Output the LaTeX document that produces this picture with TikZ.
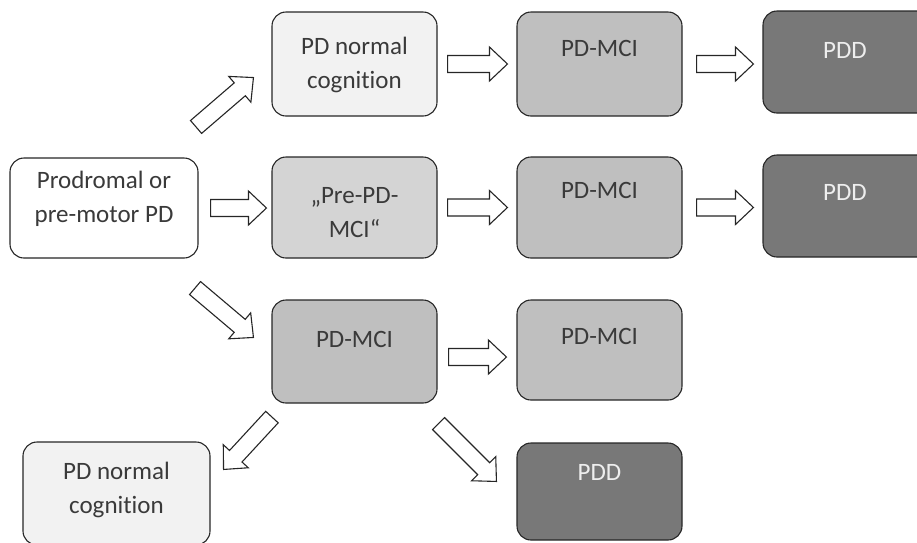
\documentclass[tikz,border=0pt]{standalone}
\usepackage{fontspec}
\setmainfont{Carlito}[Ligatures=CommonOff]
\usetikzlibrary{calc}

\definecolor{ink}{HTML}{3A3A3A}
\definecolor{edge}{HTML}{262626}
\definecolor{paleGray}{HTML}{F2F2F2}
\definecolor{preGray}{HTML}{D4D4D4}
\definecolor{midGray}{HTML}{BFBFBF}
\definecolor{darkGray}{HTML}{787878}
\definecolor{pddText}{HTML}{EEEEEE}

\begin{document}
\begin{tikzpicture}[x=1pt,y=-1pt,
  box/.style={draw=edge, line width=1.1pt, rounded corners=14pt, rectangle, inner sep=0pt},
  wide/.style={minimum width=165pt},
  % labels are placed by the baseline of their last line
  lbl/.style={anchor=base, align=center, font=\fontsize{25}{34}\selectfont, text=ink, inner sep=0pt},
  pddlbl/.style={lbl, text=pddText},
  % hollow block arrow from the start point to the tip
  fat/.style={draw=edge, line width=1.1pt, fill=white, line join=miter,
    to path={
      ($(\tikztostart)!8.5pt!90:(\tikztotarget)$)
   -- ($($(\tikztotarget)!18pt!(\tikztostart)$)!8.5pt!90:(\tikztotarget)$)
   -- ($($(\tikztotarget)!18pt!(\tikztostart)$)!17pt!90:(\tikztotarget)$)
   -- (\tikztotarget)
   -- ($($(\tikztotarget)!18pt!(\tikztostart)$)!17pt!-90:(\tikztotarget)$)
   -- ($($(\tikztotarget)!18pt!(\tikztostart)$)!8.5pt!-90:(\tikztotarget)$)
   -- ($(\tikztostart)!8.5pt!-90:(\tikztotarget)$)
   -- cycle}}]
\useasboundingbox (0,0) rectangle (917,542);
\clip (0,0) rectangle (917,542);

% boxes
\node[box, wide, fill=paleGray, minimum height=104pt] (b1) at (354.5,64) {};
\node[box, wide, fill=midGray, minimum height=104pt] (b2) at (599.5,64) {};
\node[box, fill=darkGray, minimum width=170pt, minimum height=102pt] (b3) at (848,62) {};
\node[box, fill=white, minimum width=188pt, minimum height=100pt] (b4) at (104,208) {};
\node[box, wide, fill=preGray, minimum height=101pt] (b5) at (354.5,207.5) {};
\node[box, wide, fill=midGray, minimum height=101pt] (b6) at (599.5,207.5) {};
\node[box, fill=darkGray, minimum width=170pt, minimum height=102pt] (b7) at (848,206) {};
\node[box, wide, fill=midGray, minimum height=103pt] (b8) at (354.5,351.5) {};
\node[box, wide, fill=midGray, minimum height=100pt] (b9) at (599.5,350) {};
\node[box, fill=paleGray, minimum width=187pt, minimum height=103pt] (b10) at (116.5,493.5) {};
\node[box, wide, fill=darkGray, minimum height=97pt] (b11) at (599.5,491.5) {};

% labels
\node[lbl] (t1) at (354.5,88) {PD normal\\cognition};
\node[lbl] (t2) at (599.5,56) {PD-MCI};
\node[pddlbl] (t3) at (845,58) {PDD};
\node[lbl] (t4) at (104,222) {Prodromal or\\pre-motor PD};
\node[lbl] (t5) at (354.5,237) {„Pre-PD-\\MCI“};
\node[lbl] (t6) at (599.5,198) {PD-MCI};
\node[pddlbl] (t7) at (845,200) {PDD};
\node[lbl] (t8) at (354.5,347) {PD-MCI};
\node[lbl] (t9) at (599.5,344) {PD-MCI};
\node[lbl] (t10) at (116.5,513) {PD normal\\cognition};
\node[pddlbl] (t11) at (599.5,480) {PDD};

% transitions
\draw[fat] ($(b4.north east)+(-2.5,-30.5)$) to ($(b1.south west)+(-18,-39)$);
\draw[fat] ($(b4.east)+(12,0)$) to ($(b5.west)+(-5,0.5)$);
\draw[fat] ($(b4.south east)+(-3.5,29.5)$) to ($(b8.north west)+(-18,38)$);
\draw[fat] ($(b1.east)+(10,0)$) to ($(b2.west)+(-9,0)$);
\draw[fat] ($(b2.east)+(14,0)$) to ($(b3.west |- b2.east)+(-9,0)$);
\draw[fat] ($(b5.east)+(10,0)$) to ($(b6.west)+(-9,0)$);
\draw[fat] ($(b6.east)+(14,0)$) to ($(b7.west |- b6.east)+(-9,0)$);
\draw[fat] ($(b8.east)+(11,5.5)$) to ($(b9.west)+(-10,7)$);
\draw[fat] ($(b8.south west)+(0.5,13.5)$) to ($(b10.north east)+(13,28)$);
\draw[fat] ($(b8.south east)+(1,20)$) to ($(b11.north west)+(-20,39)$);
\end{tikzpicture}
\end{document}
